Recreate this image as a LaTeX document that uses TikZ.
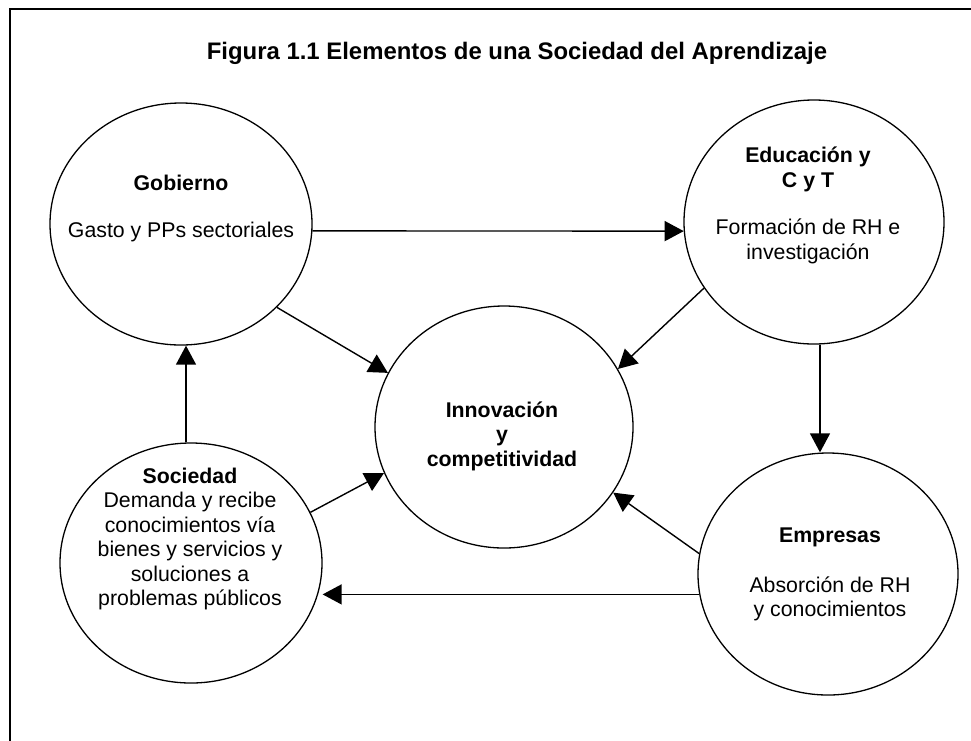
\documentclass[tikz,border=0pt]{standalone}
\usepackage{fontspec}
\setmainfont{Liberation Sans}
\usetikzlibrary{arrows.meta,shapes.geometric}

\tikzset{
  elem/.style={draw, ellipse, line width=1.3pt, inner sep=0pt,
    minimum width=262pt, minimum height=242pt},
  txt/.style={align=center, inner sep=0pt,
    font=\fontsize{21.3}{24.4}\selectfont},
  flow/.style={line width=1.4pt, -{Triangle[length=19pt,width=20pt]}},
}

\begin{document}
\begin{tikzpicture}[x=1pt,y=-1pt]
			%%%%% START %%%%%
			\useasboundingbox (0,0) rectangle (971,740);
			\clip (0,0) rectangle (971,740);
			
			\draw[line width=1.6pt] (10,9) rectangle (995,770);
			
			\node[font=\fontsize{23.9}{26}\selectfont\bfseries] (title) at (517,53) {Figura 1.1 Elementos de una Sociedad del Aprendizaje};
			
			% ellipses
			\node[elem] (gob) at (181,224) {};
			\node[elem, minimum width=260pt, minimum height=244pt] (edu) at (814,222) {};
			\node[elem, minimum width=258pt] (inn) at (504,427) {};
			\node[elem, minimum height=240pt] (soc) at (191,563) {};
			\node[elem, minimum width=260pt] (emp) at (828,574) {};
			
			% texts
			\node[txt, font=\fontsize{21.3}{24.4}\selectfont\bfseries] (gobT) at (181,183) {Gobierno};
			\node[txt] (gobD) at (181,232) {Gasto y PPs sectoriales};
			
			\node[txt, font=\fontsize{21.3}{24.4}\selectfont\bfseries] (eduT) at (808,169.5) {Educación y\\C y T};
			\node[txt] (eduD) at (808,241.5) {Formación de RH e\\investigación};
			
			\node[txt, font=\fontsize{21.3}{24.4}\selectfont\bfseries] (innT) at (502,436) {Innovación\\y\\competitividad};
			
			\node[txt] (socD) at (190,539) {\textbf{Sociedad}\\Demanda y recibe\\conocimientos vía\\bienes y servicios y\\soluciones a\\problemas públicos};
			
			\node[txt, font=\fontsize{21.3}{24.4}\selectfont\bfseries] (empT) at (830,537) {Empresas};
			\node[txt] (empD) at (830,599) {Absorción de RH\\y conocimientos};
			
			% arrows
			\draw[flow] (gob.-3.5) -- (edu.184.4);
			\draw[flow] (gob.-41) -- (inn.155.6);
			\draw[flow] (edu.211) -- (inn.27.5);
			\draw[flow] ([xshift=6pt]edu.south) -- ([xshift=6pt]edu.south |- emp.north);
			\draw[flow] ([xshift=-5pt]soc.north) -- ([xshift=-5pt]soc.north |- gob.south);
			\draw[flow] (soc.23) -- (inn.201.8);
			\draw[flow] (emp.171.6) -- (inn.-31);
			\draw[flow] (emp.189.7) -- (emp.189.7 -| soc.east);
			
			%%%%% END %%%%%
\end{tikzpicture}
\end{document}
